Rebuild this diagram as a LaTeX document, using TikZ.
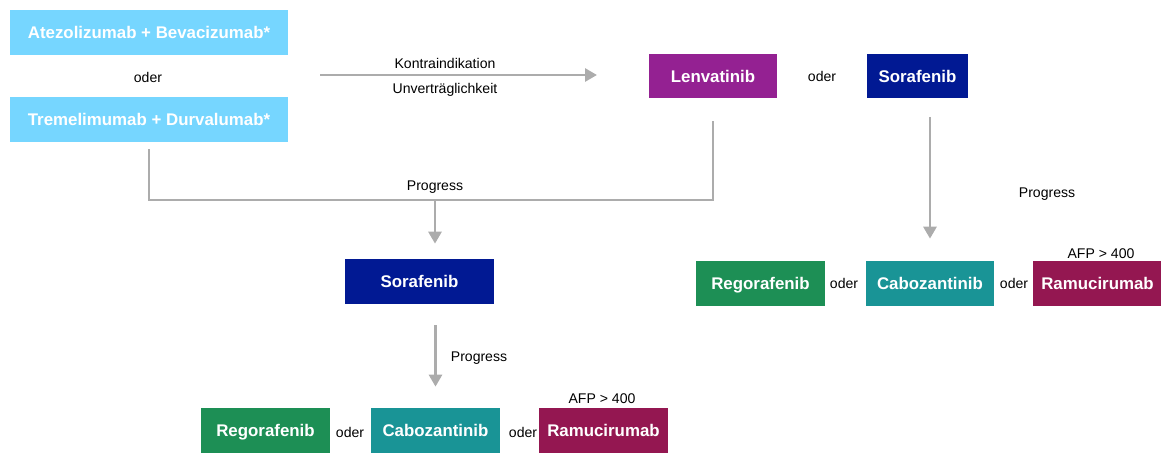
\documentclass[tikz,border=0pt]{standalone}
\usepackage{fontspec}
\setmainfont{Liberation Sans}
\usetikzlibrary{arrows.meta}
\definecolor{skyblue}{RGB}{118,214,255}
\definecolor{plum}{RGB}{148,33,146}
\definecolor{midnight}{RGB}{1,25,147}
\definecolor{regogreen}{RGB}{29,143,85}
\definecolor{caboteal}{RGB}{25,148,150}
\definecolor{maroon}{RGB}{148,23,81}
\definecolor{linegray}{RGB}{172,172,172}
\begin{document}
\begin{tikzpicture}[x=0.02cm,y=-0.02cm,>={Triangle[length=0.24cm,width=0.26cm]},
    box/.style={text=white,font=\fontsize{9.6}{11}\selectfont\bfseries,inner sep=0pt,
        text height=6.9pt,text depth=0pt,minimum height=0.9cm,minimum width=2.58cm},
    txt/.style={font=\fontsize{8}{10}\selectfont,inner sep=1pt,text height=5.8pt,text depth=0pt},
    line/.style={draw=linegray,line width=1.6pt}]
    \useasboundingbox (0,0) rectangle (1161,453);
    % first line
    \node[box,fill=skyblue,minimum width=5.56cm] (atezo) at (149,32.5) {Atezolizumab + Bevacizumab*};
    \node[txt] (oderA) at (148,77) {oder};
    \node[box,fill=skyblue,minimum width=5.56cm] (tremel) at (149,119.5) {Tremelimumab + Durvalumab*};
    \node[box,fill=plum] (lenva) at (713,76) {Lenvatinib};
    \node[txt] (oderB) at (822,76) {oder};
    \node[box,fill=midnight,minimum width=2.02cm] (soraTop) at (917.5,76) {Sorafenib};
    \coordinate (kStart) at (320,75);
    \coordinate (kEnd) at (597,75);
    \draw[line,->] (kStart) -- (kEnd);
    \node[txt] (kontra) at (445,63) {Kontraindikation};
    \node[txt] (unver) at (445,88) {Unverträglichkeit};
    % second line
    \node[box,fill=midnight,minimum width=2.98cm] (soraMid) at (419.5,281.5) {Sorafenib};
    \coordinate (progJoin) at (435,200);
    \draw[line] ([yshift=-0.14cm]tremel.south) |- (lenva.south |- progJoin) -- ([yshift=-0.44cm]lenva.south);
    \draw[line,->,shorten >=0.3cm] (progJoin) -- (progJoin |- soraMid.north);
    \node[txt] (progA) at (435,185) {Progress};
    % right branch
    \node[box,fill=regogreen] (regoR) at (760.5,283.5) {Regorafenib};
    \node[txt] (oderR1) at (844,283) {oder};
    \node[box,fill=caboteal] (caboR) at (930,283.5) {Cabozantinib};
    \node[txt] (oderR2) at (1014,283) {oder};
    \node[box,fill=maroon] (ramuR) at (1097.5,283.5) {Ramucirumab};
    \node[txt] (afpR) at (1101,253) {AFP > 400};
    \draw[line,->,shorten <=0.36cm,shorten >=0.44cm] (caboR.north |- soraTop.south) -- (caboR.north);
    \node[txt] (progB) at (1047,192) {Progress};
    % bottom line
    \node[box,fill=regogreen] (regoL) at (265.5,430.5) {Regorafenib};
    \node[txt] (oderL1) at (350,432) {oder};
    \node[box,fill=caboteal] (caboL) at (435.5,430.5) {Cabozantinib};
    \node[txt] (oderL2) at (523,432) {oder};
    \node[box,fill=maroon] (ramuL) at (603.5,430.5) {Ramucirumab};
    \node[txt] (afpL) at (602,398) {AFP > 400};
    \draw[line,->,shorten <=0.42cm,shorten >=0.42cm] (caboL.north |- soraMid.south) -- (caboL.north);
    \node[txt] (progC) at (479,356) {Progress};
\end{tikzpicture}
\end{document}
